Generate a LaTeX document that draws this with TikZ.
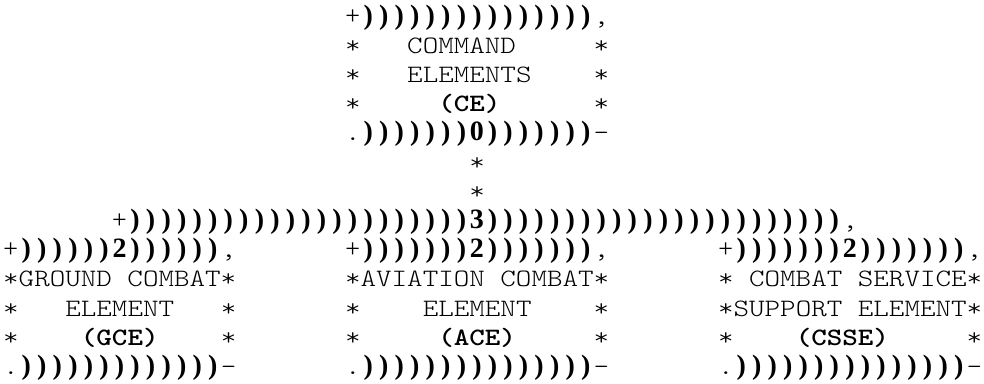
\documentclass[tikz,border=0pt]{standalone}
\usepackage{fontspec}
\newfontfamily\asciifont[FakeStretch=1.184]{Latin Modern Mono Light}
\newfontfamily\rulefont{Liberation Serif}

% a run of ")" rule characters, one per column
\newcommand\hrun[4]{\foreach \c in {#3,...,#4} \node[rule] (#1-\c) at (\c+.5,#2) {)};}

\begin{document}
\begin{tikzpicture}[x=15.54pt, y=-29.2pt,
  txt/.style={font=\asciifont\fontsize{25pt}{29.2pt}\selectfont, inner sep=0pt, anchor=base west},
  btxt/.style={txt, font=\asciifont\fontsize{25pt}{29.2pt}\selectfont\bfseries},
  rule/.style={font=\rulefont\fontsize{28pt}{29.2pt}\selectfont\bfseries, inner sep=0pt, anchor=base},
  corner/.style={font=\rulefont\fontsize{26pt}{29.2pt}\selectfont, inner sep=0pt, anchor=base}]
  \useasboundingbox (-3pt,24pt) rectangle (981pt,-359pt);

  % command element
  \node[corner] (ce-tl) at (22.5,0) {+};
  \hrun{ce-top}{0}{23}{37}
  \node[txt] (ce-tr) at (38,0) {,};
  \node[txt] (ce-l1) at (22,1) {*};
  \node[txt] (ce-t1) at (26,1) {COMMAND};
  \node[txt] (ce-r1) at (38,1) {*};
  \node[txt] (ce-l2) at (22,2) {*};
  \node[txt] (ce-t2) at (26,2) {ELEMENTS};
  \node[txt] (ce-r2) at (38,2) {*};
  \node[txt] (ce-l3) at (22,3) {*};
  \node[btxt] (ce-t3) at (28,3) {(CE)};
  \node[txt] (ce-r3) at (38,3) {*};
  \node[txt] (ce-bl) at (22,4) {.};
  \hrun{ce-bot}{4}{23}{29}
  \node[rule] (ce-tee) at (30.5,4) {0};
  \hrun{ce-bot}{4}{31}{37}
  \node[txt] (ce-br) at (38,4) {-};

  % stem and branch
  \node[txt] (stem1) at (30,5) {*};
  \node[txt] (stem2) at (30,6) {*};
  \node[corner] (br-l) at (7.5,7) {+};
  \hrun{br}{7}{8}{29}
  \node[rule] (br-tee) at (30.5,7) {3};
  \hrun{br}{7}{31}{53}
  \node[txt] (br-r) at (54,7) {,};

  % ground combat element
  \node[corner] (gce-tl) at (0.5,8) {+};
  \hrun{gce-top}{8}{1}{6}
  \node[rule] (gce-tee) at (7.5,8) {2};
  \hrun{gce-top}{8}{8}{13}
  \node[txt] (gce-tr) at (14,8) {,};
  \node[txt] (gce-t1) at (0,9) {*GROUND COMBAT*};
  \node[txt] (gce-l2) at (0,10) {*};
  \node[txt] (gce-t2) at (4,10) {ELEMENT};
  \node[txt] (gce-r2) at (14,10) {*};
  \node[txt] (gce-l3) at (0,11) {*};
  \node[btxt] (gce-t3) at (5,11) {(GCE)};
  \node[txt] (gce-r3) at (14,11) {*};
  \node[txt] (gce-bl) at (0,12) {.};
  \hrun{gce-bot}{12}{1}{13}
  \node[txt] (gce-br) at (14,12) {-};

  % aviation combat element
  \node[corner] (ace-tl) at (22.5,8) {+};
  \hrun{ace-top}{8}{23}{29}
  \node[rule] (ace-tee) at (30.5,8) {2};
  \hrun{ace-top}{8}{31}{37}
  \node[txt] (ace-tr) at (38,8) {,};
  \node[txt] (ace-t1) at (22,9) {*AVIATION COMBAT*};
  \node[txt] (ace-l2) at (22,10) {*};
  \node[txt] (ace-t2) at (27,10) {ELEMENT};
  \node[txt] (ace-r2) at (38,10) {*};
  \node[txt] (ace-l3) at (22,11) {*};
  \node[btxt] (ace-t3) at (28,11) {(ACE)};
  \node[txt] (ace-r3) at (38,11) {*};
  \node[txt] (ace-bl) at (22,12) {.};
  \hrun{ace-bot}{12}{23}{37}
  \node[txt] (ace-br) at (38,12) {-};

  % combat service support element
  \node[corner] (csse-tl) at (46.5,8) {+};
  \hrun{csse-top}{8}{47}{53}
  \node[rule] (csse-tee) at (54.5,8) {2};
  \hrun{csse-top}{8}{55}{61}
  \node[txt] (csse-tr) at (62,8) {,};
  \node[txt] (csse-t1) at (46,9) {* COMBAT SERVICE*};
  \node[txt] (csse-t2) at (46,10) {*SUPPORT ELEMENT*};
  \node[txt] (csse-l3) at (46,11) {*};
  \node[btxt] (csse-t3) at (51,11) {(CSSE)};
  \node[txt] (csse-r3) at (62,11) {*};
  \node[txt] (csse-bl) at (46,12) {.};
  \hrun{csse-bot}{12}{47}{61}
  \node[txt] (csse-br) at (62,12) {-};
\end{tikzpicture}
\end{document}
